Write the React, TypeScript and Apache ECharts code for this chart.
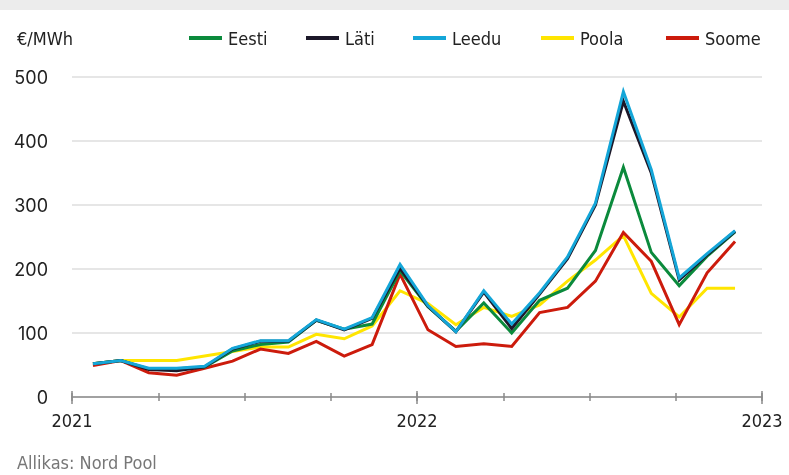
import React, { useEffect, useRef } from 'react';
import * as echarts from 'echarts';

const months = [
  '2021-01', '2021-02', '2021-03', '2021-04', '2021-05', '2021-06',
  '2021-07', '2021-08', '2021-09', '2021-10', '2021-11', '2021-12',
  '2022-01', '2022-02', '2022-03', '2022-04', '2022-05', '2022-06',
  '2022-07', '2022-08', '2022-09', '2022-10', '2022-11', '2022-12',
];
const yearLabels = ['2021', '2022', '2023'];
const yTicks = [0, 100, 200, 300, 400, 500];

const eesti = [52, 57, 44, 44, 47, 72, 82, 86, 120, 106, 114, 197, 141, 103, 147, 100, 151, 170, 229, 359, 226, 174, 220, 258];
const lati = [52, 57, 43, 41, 47, 75, 87, 87, 120, 105, 123, 201, 142, 102, 164, 107, 161, 216, 300, 462, 350, 183, 222, 259];
const leedu = [52, 57, 45, 45, 48, 76, 88, 88, 121, 106, 124, 207, 143, 102, 166, 114, 163, 219, 303, 477, 355, 186, 224, 260];
const poola = [52, 57, 57, 57, 64, 71, 78, 78, 98, 91, 111, 166, 146, 113, 140, 126, 144, 181, 214, 252, 162, 125, 170, 170];
const soome = [49, 57, 38, 34, 45, 56, 75, 68, 87, 64, 82, 192, 105, 79, 83, 79, 132, 140, 181, 257, 212, 113, 194, 243];

const legendNames = ['Eesti', 'Läti', 'Leedu', 'Poola', 'Soome'];
const legendLeft = [189, 306, 413, 541, 666];
const colorMap: Record<string, string> = {
  Eesti: '#0b8a3c',
  Läti: '#1c1829',
  Leedu: '#14a6d8',
  Poola: '#ffe500',
  Soome: '#cc1b0c',
};
// drawing order (bottom to top)
const drawOrder: [string, number[]][] = [
  ['Poola', poola],
  ['Soome', soome],
  ['Eesti', eesti],
  ['Läti', lati],
  ['Leedu', leedu],
];

const COND = '"DejaVu Sans Condensed", "DejaVu Sans", sans-serif';
const SANS = 'Inter, "DejaVu Sans", sans-serif';

export default function App() {
  const ref = useRef<HTMLDivElement>(null);
  useEffect(() => {
    const chart = echarts.init(ref.current!, null, { renderer: 'svg' });
    const gBase = { top: 77, bottom: 78, containLabel: false };
    const axisGrid = { ...gBase, left: 72, right: 27 };
    const axisColor = '#8a8a8a';
    const hiddenY = (i: number) => ({ type: 'value', gridIndex: i, min: 0, max: 500, interval: 100, show: false });
    const tickAxis = (i: number, interval: number, inside: boolean, length: number) => ({
      type: 'value', gridIndex: i, min: 0, max: 24, interval,
      axisLine: { show: false },
      axisTick: { show: true, inside, length, lineStyle: { color: axisColor, width: 1.5 } },
      axisLabel: { show: false },
      splitLine: { show: false },
    });
    const option: any = {
      animation: false,
      grid: [
        axisGrid,
        { ...gBase, left: 79, right: 40 },
        axisGrid,
        axisGrid,
        axisGrid,
      ],
      xAxis: [
        {
          type: 'value', gridIndex: 0, min: 0, max: 24, interval: 3,
          axisLine: { show: true, lineStyle: { color: axisColor, width: 1.5 } },
          axisTick: { show: true, length: 4, lineStyle: { color: axisColor, width: 1.5 } },
          axisLabel: {
            margin: 14, fontSize: 18, color: '#222', fontFamily: COND,
            formatter: (v: number) => (v % 12 === 0 ? yearLabels[v / 12] : ''),
          },
          splitLine: { show: false },
        },
        { type: 'category', gridIndex: 1, data: months, boundaryGap: true, show: false },
        tickAxis(2, 3, true, 4),
        tickAxis(3, 12, false, 7),
        tickAxis(4, 12, true, 6),
      ],
      yAxis: [
        {
          type: 'value', gridIndex: 0, min: 0, max: 500, interval: 100,
          axisLine: { show: false }, axisTick: { show: false },
          axisLabel: {
            margin: 24, fontSize: 18, color: '#222', fontFamily: SANS,
            formatter: (v: number) => (yTicks.includes(v) ? String(v) : ''),
          },
          splitLine: { show: true, lineStyle: { color: '#dedede', width: 1.5 } },
        },
        hiddenY(1), hiddenY(2), hiddenY(3), hiddenY(4),
      ],
      legend: legendNames.map((n, i) => ({
        data: [n],
        left: legendLeft[i],
        top: 29,
        icon: 'rect',
        itemWidth: 33,
        itemHeight: 4,
        itemGap: 0,
        padding: 0,
        selectedMode: false,
        textStyle: { fontSize: 18, fontFamily: COND, color: '#222', padding: [0, 0, 0, 1] },
      })),
      series: drawOrder.map(([name, data]) => ({
        name,
        type: 'line',
        xAxisIndex: 1,
        yAxisIndex: 1,
        data,
        symbol: 'none',
        color: colorMap[name],
        lineStyle: { width: 3, color: colorMap[name], join: 'miter' },
      })),
      graphic: [
        { type: 'rect', shape: { x: 0, y: 0, width: 789, height: 10 }, style: { fill: '#ececec' } },
        {
          type: 'text', x: 17, y: 38,
          style: { text: '€/MWh', fontSize: 18, fontFamily: COND, fill: '#222', verticalAlign: 'middle' },
        },
        {
          type: 'text', x: 17, y: 462,
          style: { text: 'Allikas: Nord Pool', fontSize: 18, fontFamily: COND, fill: '#777', verticalAlign: 'middle' },
        },
      ],
    };
    chart.setOption(option);
    return () => chart.dispose();
  }, []);
  return <div ref={ref} style={{ position: 'fixed', left: 0, top: 0, width: 789, height: 475 }} />;
}
